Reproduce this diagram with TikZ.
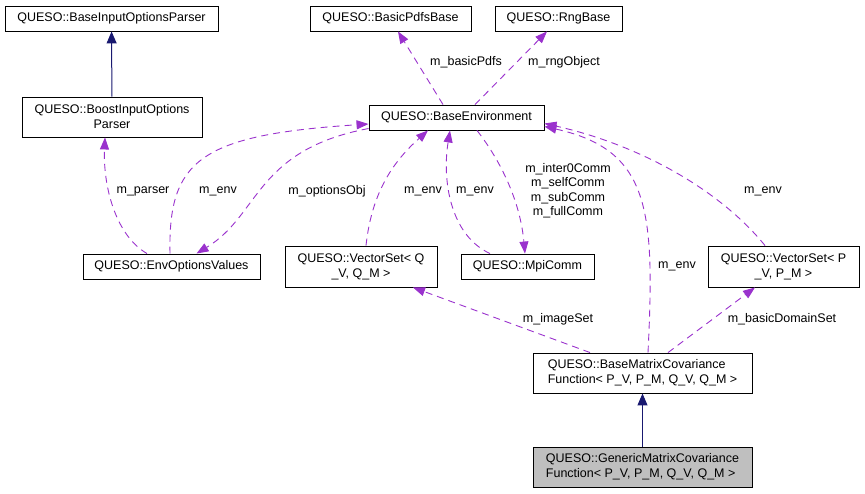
\documentclass[tikz,border=0pt]{standalone}
\usepackage{fontspec}
\setmainfont{Liberation Sans}
\usetikzlibrary{arrows.meta}
\definecolor{depc}{HTML}{9A32CD}
\definecolor{inhc}{HTML}{191970}
\definecolor{selfc}{HTML}{BFBFBF}
\tikzset{
  cls/.style={draw=black, fill=white, line width=0.9pt, inner sep=0pt,
    font=\fontsize{12.5}{15}\selectfont, align=center},
  usedep/.style={draw=depc, line width=0.9pt, dash pattern=on 7pt off 5pt,
    -{Triangle[length=12pt,width=9pt,fill=depc]}},
  inher/.style={draw=inhc, line width=1pt, -{Triangle[length=12pt,width=10pt,fill=inhc]}},
  lbl/.style={font=\fontsize{12.5}{14.5}\selectfont, inner sep=0pt, align=center},
}
\begin{document}
\begin{tikzpicture}[x=1pt,y=-1pt]
\useasboundingbox (0,0) rectangle (865,493);
% nodes
\node[cls, minimum width=213pt, minimum height=25pt] (bip) at (111.5,18.5) {QUESO::BaseInputOptionsParser};
\node[cls, minimum width=180pt, minimum height=40pt] (boost) at (112,117) {QUESO::BoostInputOptions\\Parser};
\node[cls, minimum width=177pt, minimum height=25pt] (envopt) at (171.5,266.5) {QUESO::EnvOptionsValues};
\node[cls, minimum width=161pt, minimum height=25pt] (pdfs) at (390.5,18.5) {QUESO::BasicPdfsBase};
\node[cls, minimum width=127pt, minimum height=25pt] (rng) at (558.5,18.5) {QUESO::RngBase};
\node[cls, minimum width=175pt, minimum height=25pt] (env) at (456.5,117.5) {QUESO::BaseEnvironment};
\node[cls, minimum width=152pt, minimum height=41pt] (vsq) at (361,266.5) {QUESO::VectorSet< Q\\\_V, Q\_M >};
\node[cls, minimum width=133pt, minimum height=25pt] (mpi) at (527.5,266.5) {QUESO::MpiComm};
\node[cls, minimum width=151pt, minimum height=41pt] (vsp) at (783.5,266.5) {QUESO::VectorSet< P\\\_V, P\_M >};
\node[cls, align=left, minimum width=219pt, minimum height=40pt] (bmc) at (642.5,373) {QUESO::BaseMatrixCovariance\\Function< P\_V, P\_M, Q\_V, Q\_M >};
\node[cls, fill=selfc, align=left, minimum width=219pt, minimum height=40pt] (gmc) at (642.5,467) {QUESO::GenericMatrixCovariance\\Function< P\_V, P\_M, Q\_V, Q\_M >};
% inheritance
\draw[inher] (boost) -- (bip);
\draw[inher] (gmc) -- (bmc);
% usage edges
\draw[usedep] ([xshift=-24.5pt]envopt.north) .. controls (115,235) and (103,185) .. ([xshift=-7pt]boost.south);
\draw[usedep] ([xshift=-1.5pt]envopt.north) .. controls (168,160) and (200,135) .. ([yshift=-6.5pt]env.west);
\draw[usedep] ([yshift=-11pt]env.west) .. controls (255,150) and (260,215) .. ([xshift=25pt]envopt.north);
\draw[usedep] ([xshift=5pt]vsq.north) .. controls (372,190) and (395,160) .. ([xshift=-28.5pt]env.south);
\draw[usedep] ([xshift=-37.5pt]mpi.north) .. controls (450,235) and (442,180) .. ([xshift=-6.5pt]env.south);
\draw[usedep] ([xshift=20.5pt]env.south) .. controls (500,160) and (520,200) .. ([xshift=-2.5pt]mpi.north);
\draw[usedep] ([xshift=5.5pt]bmc.north) .. controls (655,210) and (650,150) .. ([yshift=-9pt]env.east);
\draw[usedep] ([xshift=-18.5pt]vsp.north) .. controls (720,190) and (640,145) .. ([yshift=-6pt]env.east);
\draw[usedep] ([xshift=-52.5pt]bmc.north) -- ([xshift=52pt]vsq.south);
\draw[usedep] ([xshift=25.5pt]bmc.north) -- ([xshift=-28.5pt]vsp.south);
\draw[usedep] ([xshift=-13.5pt]env.north) -- ([xshift=7.5pt]pdfs.south);
\draw[usedep] ([xshift=18.5pt]env.north) -- ([xshift=-11.5pt]rng.south);
% labels
\node[lbl] (l1) at (143,191) {m\_parser};
\node[lbl] (l2) at (218,191) {m\_env};
\node[lbl] (l3) at (327,191) {m\_optionsObj};
\node[lbl] (l4) at (423,191) {m\_env};
\node[lbl] (l5) at (475,191) {m\_env};
\node[lbl] (l6) at (568,190.5) {m\_inter0Comm\\m\_selfComm\\m\_subComm\\m\_fullComm};
\node[lbl] (l7) at (677,266) {m\_env};
\node[lbl] (l8) at (763,191) {m\_env};
\node[lbl] (l9) at (558,319) {m\_imageSet};
\node[lbl] (l10) at (782,319) {m\_basicDomainSet};
\node[lbl] (l11) at (466,62) {m\_basicPdfs};
\node[lbl] (l12) at (564,62) {m\_rngObject};
\end{tikzpicture}
\end{document}
